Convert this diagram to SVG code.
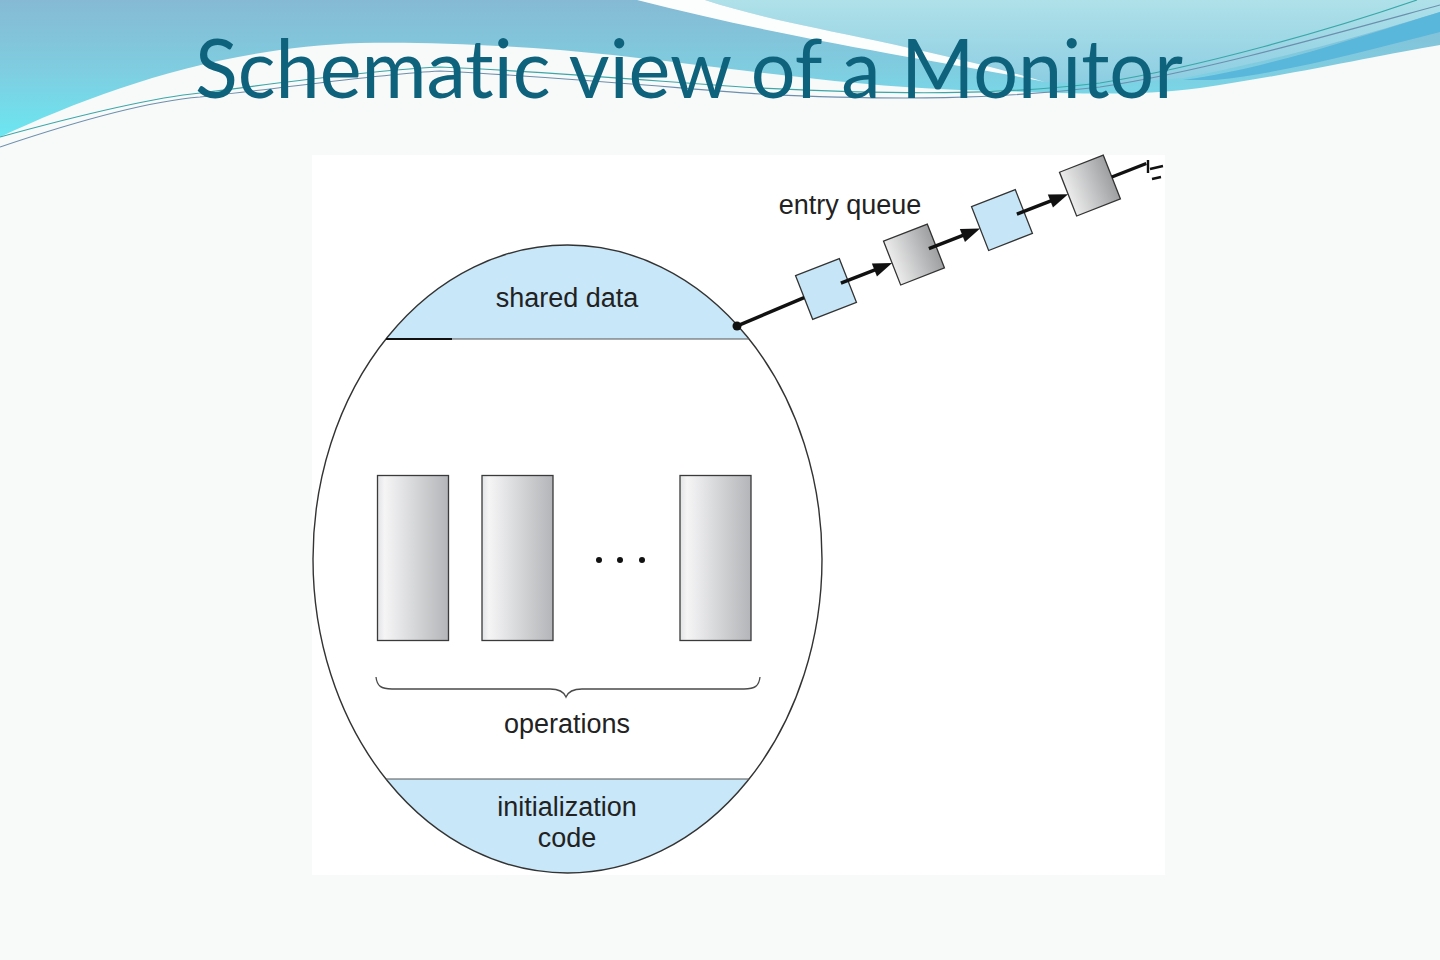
<svg xmlns="http://www.w3.org/2000/svg" width="1440" height="960" viewBox="0 0 1440 960">
<defs>
<linearGradient id="bannerG" gradientUnits="userSpaceOnUse" x1="0" y1="0" x2="0" y2="140">
<stop offset="0" stop-color="#86bad4"/><stop offset="0.5" stop-color="#7fcde0"/><stop offset="1" stop-color="#6ae8f2"/>
</linearGradient>
<linearGradient id="lightG" gradientUnits="userSpaceOnUse" x1="0" y1="0" x2="0" y2="85">
<stop offset="0" stop-color="#afe1e9"/><stop offset="1" stop-color="#8ccde2"/>
</linearGradient>
<linearGradient id="opG" x1="0" y1="0" x2="1" y2="0">
<stop offset="0" stop-color="#e2e3e5"/><stop offset="0.1" stop-color="#f5f5f6"/><stop offset="1" stop-color="#b3b5b8"/>
</linearGradient>
<linearGradient id="qG" x1="0" y1="0" x2="1" y2="0">
<stop offset="0" stop-color="#ececec"/><stop offset="1" stop-color="#9d9fa1"/>
</linearGradient>
<style>
.op{fill:url(#opG);stroke:#3a3a3a;stroke-width:1.3}
.qb{fill:#c6e6f7;stroke:#333;stroke-width:1.3}
.qg{fill:url(#qG);stroke:#333;stroke-width:1.3}
.lbl{font-family:"Liberation Sans",Arial,sans-serif;font-size:27px;fill:#222;text-anchor:middle}
.cap{fill:#c8e7f8}
.thin{fill:none;stroke:#4a4a4a;stroke-width:1.3}
.conn{stroke:#111;stroke-width:3.4;fill:none}
.head{fill:#111}
.title{font-family:Lato,"Open Sans",sans-serif;font-size:81px;fill:#0e627c;font-variant-ligatures:none;font-feature-settings:"liga" 0,"clig" 0}
</style>
</defs>

<rect width="1440" height="960" fill="#f8f9f9"/>

<g id="banner">
<path d="M0,0 H1440 V45 C1380,55 1290,75 1200,88 C1120,98 1060,92 960,90 C820,85 700,62 560,50 C480,44 420,42 360,43 C220,48 100,90 0,137 Z" fill="url(#bannerG)"/>
<path d="M705,0 H1440 V12 C1380,30 1300,55 1183,78 C1120,84 1080,84 1045,82 C900,40 790,28 705,0 Z" fill="url(#lightG)"/>
<path d="M637,0 L705,0 C790,28 900,40 1045,82 C960,64 800,42 637,0 Z" fill="#fcfefe"/>
<path d="M1183,80 C1260,70 1350,40 1440,12 V32 C1360,52 1290,72 1215,80 Z" fill="#58b7db"/>
<path d="M0,137 C80,115 150,98 200,93 C300,80 380,70 440,67 C560,72 700,85 760,88 C900,95 1000,95 1100,83 C1200,67 1330,30 1417,0" fill="none" stroke="#3aa7a8" stroke-width="1.2"/>
<path d="M0,147 C80,120 150,101 200,97 C300,86 380,74 440,71 C560,77 700,90 760,94 C900,101 1000,99 1100,87 C1200,72 1330,35 1440,5" fill="none" stroke="#6c8fae" stroke-width="1.1"/>
<text class="title" x="195" y="98" textLength="988" lengthAdjust="spacingAndGlyphs">Schematic view of a Monitor</text>
</g>

<rect x="312" y="155" width="853" height="720" fill="#ffffff"/>

<g id="monitor">
<path class="cap" d="M386,339 A254.5,314 0 0 1 749,339 Z"/>
<path class="cap" d="M386,779 A254.5,314 0 0 0 749,779 Z"/>
<ellipse cx="567.5" cy="559" rx="254.5" ry="314" fill="none" stroke="#333" stroke-width="1.4"/>
<line x1="386" y1="339" x2="749" y2="339" stroke="#555" stroke-width="1.2"/>
<line x1="386" y1="339" x2="452" y2="339" stroke="#111" stroke-width="2"/>
<line x1="386" y1="779" x2="749" y2="779" stroke="#555" stroke-width="1.2"/>
</g>

<g id="shared-data"><text class="lbl" x="567" y="307">shared data</text></g>
<g id="init-code"><text class="lbl" x="567" y="816">initialization</text><text class="lbl" x="567" y="847">code</text></g>

<g id="operations">
<rect id="op1" class="op" x="377.5" y="475.5" width="71" height="165"/>
<rect id="op2" class="op" x="482" y="475.5" width="71" height="165"/>
<rect id="op3" class="op" x="680" y="475.5" width="71" height="165"/>
<circle cx="599" cy="560" r="3" fill="#111"/>
<circle cx="620" cy="560" r="3" fill="#111"/>
<circle cx="642" cy="560" r="3" fill="#111"/>
<path class="thin" d="M376,677 C377,686 381,689 392,689 L550,689 C559,689 564,692 566,697 C568,692 573,689 582,689 L744,689 C755,689 759,686 760,677"/>
<text class="lbl" x="567" y="733">operations</text>
</g>

<g id="entry-queue-label"><text class="lbl" x="850" y="214">entry queue</text></g>

<g id="queue" transform="translate(826,289) rotate(-21.4)">
<rect id="q1" class="qb" x="-23.5" y="-23.5" width="47" height="47"/>
<rect id="q2" class="qg" x="71" y="-23.5" width="47" height="47"/>
<rect id="q3" class="qb" x="165.5" y="-23.5" width="47" height="47"/>
<rect id="q4" class="qg" x="260" y="-23.5" width="47" height="47"/>
</g>

<g id="connectors">
<circle cx="737" cy="326" r="4.5" fill="#111"/>
<g transform="translate(826,289) rotate(-21.4)">
<line class="conn" x1="-96" y1="2" x2="-23.5" y2="0"/>
<line class="conn" x1="16" y1="0" x2="56" y2="0"/>
<polygon class="head" points="52,-7 71,0 52,7"/>
<line class="conn" x1="110.5" y1="0" x2="150.5" y2="0"/>
<polygon class="head" points="146.5,-7 165.5,0 146.5,7"/>
<line class="conn" x1="205" y1="0" x2="245" y2="0"/>
<polygon class="head" points="241,-7 260,0 241,7"/>
<line class="conn" x1="307" y1="0" x2="344" y2="0"/>
</g>
<path d="M1148,160 V173 M1150,169 L1163,166 M1152,179 L1161,177" fill="none" stroke="#111" stroke-width="2.4"/>
</g>
</svg>
